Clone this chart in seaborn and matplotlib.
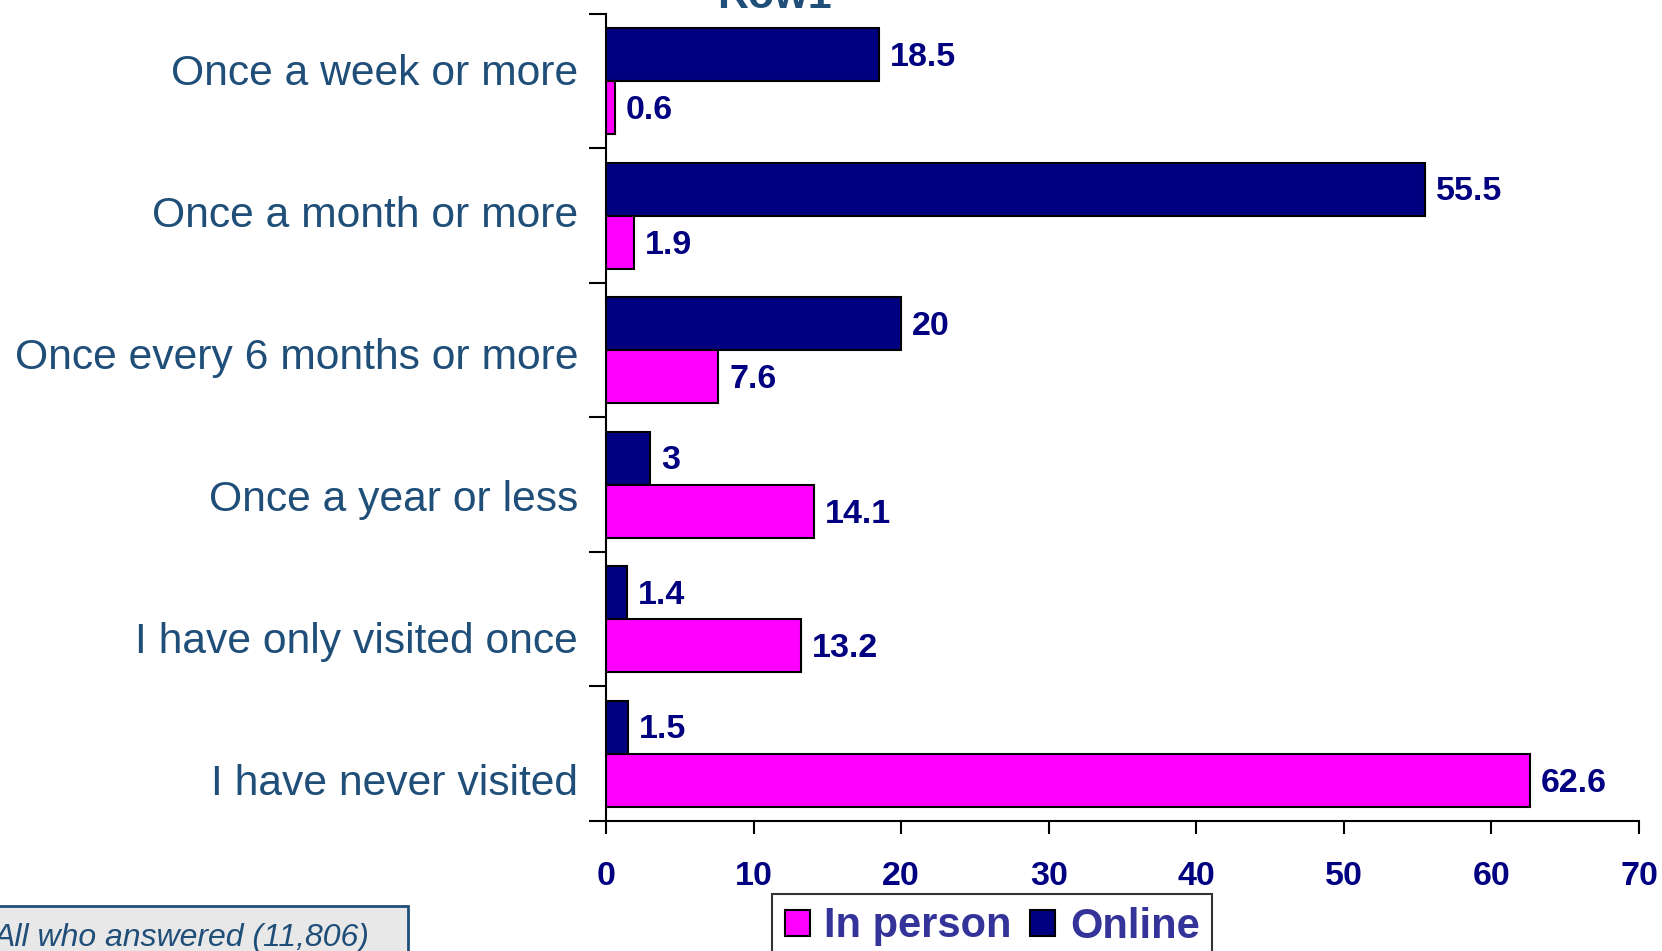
import matplotlib
matplotlib.use("Agg")
import matplotlib.pyplot as plt
import matplotlib.patches as mpatches
import seaborn as sns
import pandas as pd

categories = ["Once a week or more", "Once a month or more", "Once every 6 months or more",
              "Once a year or less", "I have only visited once", "I have never visited"]
online = [18.5, 55.5, 20, 3, 1.4, 1.5]
in_person = [0.6, 1.9, 7.6, 14.1, 13.2, 62.6]
series = ["Online", "In person"]
xticks = [0, 10, 20, 30, 40, 50, 60, 70]

df = pd.DataFrame({
    "category": categories * 2,
    "value": online + in_person,
    "mode": ["Online"] * len(categories) + ["In person"] * len(categories),
})

sns.set_style("white")
plt.rcParams["font.family"] = ["Liberation Sans", "DejaVu Sans"]

W, H = 1662, 951
fig = plt.figure(figsize=(W / 100, H / 100), dpi=100)
ax = fig.add_axes([606 / W, 1 - 821 / H, (1639 - 606) / W, (821 - 14) / H])

colors = {"Online": "#000080", "In person": "#FF00FF"}
sns.barplot(data=df, y="category", x="value", hue="mode", hue_order=series,
            order=categories, palette=colors, saturation=1, edgecolor="black", linewidth=1.5,
            width=0.79, ax=ax, legend=False, orient="h", errorbar=None)

for cont in ax.containers:
    for patch, v in zip(cont.patches, cont.datavalues):
        ax.annotate(f"{v:g}", (patch.get_x() + patch.get_width(), patch.get_y() + patch.get_height() / 2),
                    xytext=(8, -2), textcoords="offset points", ha="left", va="center",
                    fontsize=24.5, fontweight="bold", color="#000080")

ax.set_xlim(0, 70)
ax.set_ylim(5.5, -0.5)
ax.set_xticks(xticks)
ax.set_xticklabels([str(t) for t in xticks], fontsize=24.5, fontweight="bold", color="#000080")
# category labels are spaced slightly wider than the bands in the original
ax.set_yticks([-0.085 + 1.055 * i for i in range(len(categories))])
ax.set_yticklabels(categories, fontsize=30.7, color="#1F4E79")
ax.set_yticks([i - 0.5 for i in range(len(categories) + 1)], minor=True)
ax.tick_params(axis="y", which="major", length=0, pad=20)
ax.tick_params(axis="y", which="minor", length=12, width=1.5, color="black", direction="out", left=True)
ax.tick_params(axis="x", which="major", length=9, width=1.5, color="black", direction="out", pad=20, bottom=True)
ax.set_xlabel("")
ax.set_ylabel("")
for s in ["top", "right"]:
    ax.spines[s].set_visible(False)
for s in ["left", "bottom"]:
    ax.spines[s].set_color("black")
    ax.spines[s].set_linewidth(1.5)
ax.grid(False)

# Title, mostly cut off at top
fig.text(775 / W, 1 - 8 / H, "Row1", ha="center", va="baseline", fontsize=31,
         fontweight="bold", color="#1F4E79")

# Legend
handles = [mpatches.Patch(facecolor=colors["In person"], edgecolor="black", linewidth=1.5, label="In person"),
           mpatches.Patch(facecolor=colors["Online"], edgecolor="black", linewidth=1.5, label="Online")]
leg = fig.legend(handles=handles, loc="upper left", bbox_to_anchor=(772 / W, 1 - 894 / H),
                 borderaxespad=0, ncol=2, frameon=True, fancybox=False, handlelength=0.6,
                 handleheight=0.6, handletextpad=0.35, columnspacing=0.45, borderpad=0.3,
                 prop={"weight": "bold", "size": 30})
leg.get_frame().set_edgecolor("black")
leg.get_frame().set_linewidth(1.5)
for t in leg.get_texts():
    t.set_color("#333399")

# Base note box
rect = mpatches.Rectangle((-10 / W, -0.05), 418 / W, 0.05 + (951 - 906) / H,
                          transform=fig.transFigure, facecolor="#E8E8E8",
                          edgecolor="#1F4E79", linewidth=2, clip_on=False)
fig.patches.append(rect)
fig.text(-6 / W, 1 - 938 / H, "All who answered (11,806)", ha="left", va="center",
         fontsize=23, fontstyle="italic", color="#1F4E79")

fig.savefig("out.png", dpi=100)
